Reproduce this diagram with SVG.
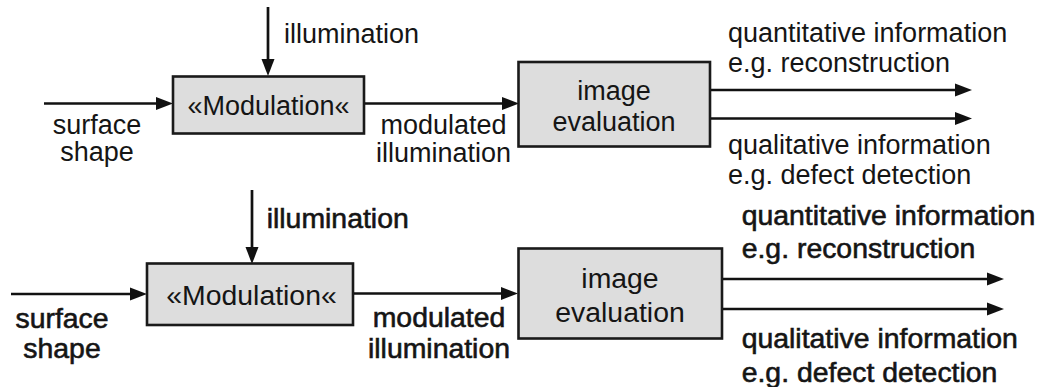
<svg xmlns="http://www.w3.org/2000/svg" width="1048" height="387" viewBox="0 0 1048 387">
<style>
  .box { fill: #dddddd; stroke: #1a1a1a; stroke-width: 2.6; }
  .ln { stroke: #111; stroke-width: 2.7; fill: none; marker-end: url(#ah); }
  .t1 { font-family: "Liberation Sans", Arial, sans-serif; font-size: 27px; fill: #151515; }
  .t2 { font-family: "Liberation Sans", Arial, sans-serif; font-size: 28.4px; fill: #151515; }
  .b2 { stroke: #151515; stroke-width: 0.6; }
  .mid { text-anchor: middle; }
</style>
<defs>
  <marker id="ah" markerUnits="userSpaceOnUse" markerWidth="18" markerHeight="14" refX="8" refY="7" orient="auto">
    <path d="M0,0.5 L17,7 L0,13.5 z" fill="#111"/>
  </marker>
</defs>

<g id="connectors">
  <!-- top diagram -->
  <line class="ln" x1="268" y1="7" x2="268" y2="67"/>
  <line class="ln" x1="44" y1="103.5" x2="164" y2="103.5"/>
  <line class="ln" x1="364" y1="103.5" x2="510" y2="103.5"/>
  <line class="ln" x1="710" y1="90" x2="963" y2="90"/>
  <line class="ln" x1="710" y1="118.5" x2="963" y2="118.5"/>
  <!-- bottom diagram -->
  <line class="ln" x1="252" y1="190" x2="252" y2="255"/>
  <line class="ln" x1="11" y1="294" x2="138" y2="294"/>
  <line class="ln" x1="353" y1="293.5" x2="509" y2="293.5"/>
  <line class="ln" x1="722" y1="279" x2="995" y2="279"/>
  <line class="ln" x1="722" y1="309" x2="995" y2="309"/>
</g>

<g id="top-modulation">
  <rect class="box" x="173" y="76.5" width="191" height="57"/>
  <text class="t1 mid" x="268.5" y="115">«Modulation«</text>
</g>
<g id="top-evaluation">
  <rect class="box" x="518.5" y="62" width="191.5" height="84.5"/>
  <text class="t1 mid" x="614" y="100">image</text>
  <text class="t1 mid" x="614" y="130.5">evaluation</text>
</g>
<g id="top-labels">
  <text class="t1" x="284" y="43">illumination</text>
  <text class="t1 mid" x="97" y="134">surface</text>
  <text class="t1 mid" x="97" y="161">shape</text>
  <text class="t1 mid" x="443.5" y="134">modulated</text>
  <text class="t1 mid" x="443.5" y="161.5">illumination</text>
  <text class="t1" x="728" y="41.7">quantitative information</text>
  <text class="t1" x="728" y="71.7">e.g. reconstruction</text>
  <text class="t1" x="728" y="154">qualitative information</text>
  <text class="t1" x="728" y="184">e.g. defect detection</text>
</g>

<g id="bottom-modulation">
  <rect class="box" x="147" y="263.5" width="206" height="61.5"/>
  <text class="t2 mid" x="251.5" y="305">«Modulation«</text>
</g>
<g id="bottom-evaluation">
  <rect class="box" x="518.5" y="248.5" width="203.5" height="90"/>
  <text class="t2 mid" x="620" y="288.3">image</text>
  <text class="t2 mid" x="620" y="321.7">evaluation</text>
</g>
<g id="bottom-labels">
  <text class="t2 b2" x="266.7" y="228.3">illumination</text>
  <text class="t2 b2 mid" x="62" y="327.5">surface</text>
  <text class="t2 b2 mid" x="62" y="358">shape</text>
  <text class="t2 b2 mid" x="439" y="327.3">modulated</text>
  <text class="t2 b2 mid" x="439" y="358.3">illumination</text>
  <text class="t2 b2" x="741.7" y="225">quantitative information</text>
  <text class="t2 b2" x="741.7" y="258.3">e.g. reconstruction</text>
  <text class="t2 b2" x="741.7" y="348.3">qualitative information</text>
  <text class="t2 b2" x="741.7" y="381.7">e.g. defect detection</text>
</g>
</svg>
